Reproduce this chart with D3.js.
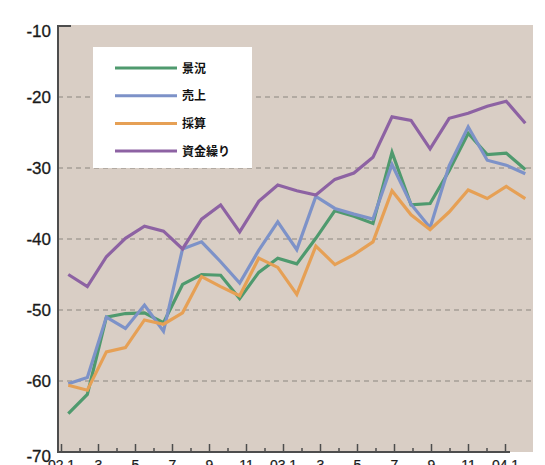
<!DOCTYPE html>
<html>
<head>
<meta charset="utf-8">
<script src="https://cdn.jsdelivr.net/npm/d3@7"></script>
<style>
  body { margin: 0; background: #fff; }
  svg { display: block; }
</style>
</head>
<body>
<div id="chart"></div>
<script>
// month labels on the x axis (every other month gets a label)
var months = ["02.1","2","3","4","5","6","7","8","9","10","11","12",
              "03.1","2","3","4","5","6","7","8","9","10","11","12","04.1"];
var seriesNames = ["景況", "売上", "採算", "資金繰り"];

var keikyo = [-64.6, -61.9, -51.0, -50.5, -50.4, -51.8, -46.4, -45.0, -45.1, -48.4, -44.7, -42.7,
              -43.5, -39.9, -36.0, -36.8, -37.8, -27.8, -35.2, -35.0, -30.4, -25.1, -28.1, -27.9, -30.2];
var uriage = [-60.4, -59.5, -51.0, -52.6, -49.3, -53.0, -41.4, -40.4, -43.2, -46.2, -41.6, -37.6,
              -41.5, -34.0, -35.7, -36.5, -37.2, -29.5, -35.1, -38.4, -29.7, -24.2, -28.9, -29.6, -30.8];
var saisan = [-60.6, -61.3, -55.9, -55.3, -51.4, -52.0, -50.4, -45.3, -46.7, -48.0, -42.7, -44.0,
              -47.8, -41.0, -43.6, -42.2, -40.4, -33.2, -36.6, -38.7, -36.2, -33.1, -34.3, -32.6, -34.3];
var shikinguri = [-45.0, -46.7, -42.5, -39.9, -38.2, -38.9, -41.4, -37.2, -35.2, -39.0, -34.7, -32.4,
                  -33.2, -33.8, -31.6, -30.7, -28.5, -22.8, -23.3, -27.3, -23.0, -22.3, -21.3, -20.6, -23.7];
var yTicks = [-10, -20, -30, -40, -50, -60, -70];

var colors = ["#4f9a6e", "#7d92c8", "#e6a055", "#8d62a3"];

var svgWidth = 545;
var svgHeight = 465;

var plot = { left: 58, right: 533, top: 25, bottom: 452 };

var svg = d3.select("#chart")
  .append("svg")
  .attr("width", svgWidth)
  .attr("height", svgHeight);

// scales: ticks and data points are not quite aligned in the original
var xTick = d3.scaleLinear().domain([0, months.length - 1]).range([61, 505]);
var xData = d3.scaleLinear().domain([0, months.length - 1]).range([68.3, 525.3]);
var yScale = d3.scaleLinear().domain([-70, -10]).range([452, 26]);

// plot background
svg.append("rect")
  .attr("x", plot.left)
  .attr("y", plot.top)
  .attr("width", plot.right - plot.left)
  .attr("height", plot.bottom - plot.top)
  .attr("fill", "#d9cec5");

// dashed gridlines
svg.append("g")
  .selectAll("line")
  .data(yTicks.filter(d => d > -70 && d < -10))
  .enter()
  .append("line")
  .attr("x1", plot.left)
  .attr("x2", plot.right)
  .attr("y1", d => yScale(d))
  .attr("y2", d => yScale(d))
  .attr("stroke", "#8c8580")
  .attr("stroke-width", 1.2)
  .attr("stroke-dasharray", "5,4");

// lines
var allSeries = [keikyo, uriage, saisan, shikinguri];
var line = d3.line()
  .x((d, i) => xData(i))
  .y(d => yScale(d));

svg.append("g")
  .selectAll("path")
  .data(allSeries)
  .enter()
  .append("path")
  .attr("d", d => line(d))
  .attr("fill", "none")
  .attr("stroke", (d, i) => colors[i])
  .attr("stroke-width", 3.2)
  .attr("stroke-linejoin", "miter");

// legend
var legend = svg.append("g");
legend.append("rect")
  .attr("x", 93)
  .attr("y", 47)
  .attr("width", 159)
  .attr("height", 121)
  .attr("fill", "#fff");

var legendItems = legend.selectAll("g.item")
  .data(seriesNames)
  .enter()
  .append("g")
  .attr("class", "item")
  .attr("transform", (d, i) => `translate(0, ${68 + i * 27.7})`);

legendItems.append("line")
  .attr("x1", 115)
  .attr("x2", 177)
  .attr("stroke", (d, i) => colors[i])
  .attr("stroke-width", 3);

legendItems.append("text")
  .attr("x", 182)
  .attr("y", 4.5)
  .style("font-family", "'Noto Sans CJK JP', sans-serif")
  .style("font-size", "12px")
  .style("font-weight", "bold")
  .style("fill", "#111")
  .text(d => d);

// left axis
var leftAxis = d3.axisLeft(yScale)
  .tickValues(yTicks)
  .tickSize(0)
  .tickPadding(7)
  .tickFormat(d => d);

var yAxis = svg.append("g")
  .attr("transform", `translate(${plot.left}, 0)`)
  .call(leftAxis);
yAxis.select(".domain").remove();
yAxis.selectAll("text")
  .attr("dy", d => d === -10 ? "0.6em" : d === -70 ? "0.55em" : "0.32em")
  .style("font-family", "'Liberation Sans', Arial, sans-serif")
  .style("font-size", "17px")
  .style("fill", "#1a1a1a")
  .style("stroke", "#1a1a1a")
  .style("stroke-width", 0.3);

svg.append("line")
  .attr("x1", plot.left)
  .attr("x2", plot.left)
  .attr("y1", plot.top)
  .attr("y2", plot.bottom)
  .attr("stroke", "#4d4d4d")
  .attr("stroke-width", 2);
svg.append("line")
  .attr("x1", plot.left)
  .attr("x2", 71)
  .attr("y1", plot.top + 1)
  .attr("y2", plot.top + 1)
  .attr("stroke", "#4d4d4d")
  .attr("stroke-width", 2);

// bottom axis: major (labelled) and minor ticks pointing up
var majorIdx = d3.range(0, months.length, 2);
var minorIdx = d3.range(1, months.length, 2);

var bottomAxis = d3.axisBottom(xTick)
  .tickValues(majorIdx)
  .tickSize(-8)
  .tickPadding(5)
  .tickFormat(i => months[i]);

var xAxis = svg.append("g")
  .attr("transform", `translate(0, ${plot.bottom})`)
  .call(bottomAxis);
xAxis.select(".domain").remove();
xAxis.selectAll("line").attr("stroke", "#4d4d4d").attr("stroke-width", 1.5);
xAxis.selectAll("text")
  .attr("dy", "0.9em")
  .style("font-family", "'Liberation Sans', Arial, sans-serif")
  .style("font-size", "14px")
  .style("fill", "#1a1a1a")
  .style("stroke", "#1a1a1a")
  .style("stroke-width", 0.2);

var minorAxis = d3.axisBottom(xTick)
  .tickValues(minorIdx)
  .tickSize(-4)
  .tickFormat("");
var xMinor = svg.append("g")
  .attr("transform", `translate(0, ${plot.bottom})`)
  .call(minorAxis);
xMinor.select(".domain").remove();
xMinor.selectAll("line").attr("stroke", "#4d4d4d").attr("stroke-width", 1.5);

svg.append("line")
  .attr("x1", plot.left - 1)
  .attr("x2", 510)
  .attr("y1", plot.bottom)
  .attr("y2", plot.bottom)
  .attr("stroke", "#4d4d4d")
  .attr("stroke-width", 2);
</script>
</body>
</html>
